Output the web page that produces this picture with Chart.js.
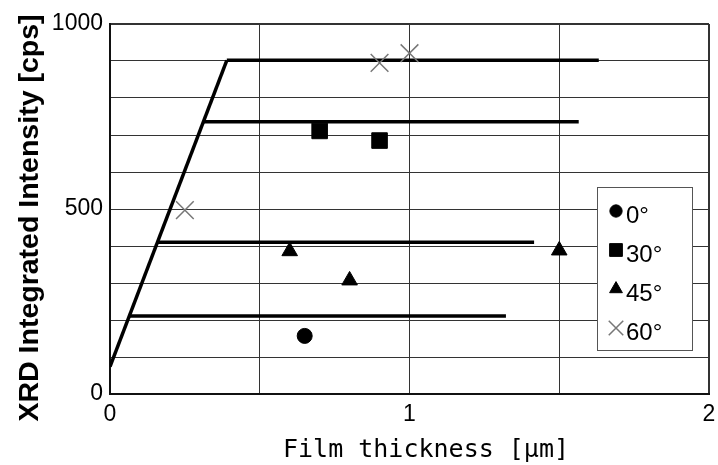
<!DOCTYPE html>
<html>
<head>
<meta charset="utf-8">
<script src="https://cdn.jsdelivr.net/npm/chart.js@4/dist/chart.umd.min.js"></script>
<style>
  html, body { margin: 0; padding: 0; background: #fff; }
  #wrap { width: 718px; height: 465px; }
</style>
</head>
<body>
<div id="wrap"><canvas id="xrdChart" width="718" height="465"></canvas></div>
<script>
// Film thickness [um] vs XRD integrated intensity [cps]
const seriesLabels = ['0°', '30°', '45°', '60°'];
const x0 = [0.65];
const y0 = [157];
const x30 = [0.70, 0.90];
const y30 = [711, 685];
const x45 = [0.60, 0.80, 1.50];
const y45 = [386, 307, 388];
const x60 = [0.25, 0.90, 1.00];
const y60 = [497, 895, 921];

// guide lines (slope + plateaus)
const slopeX = [0, 0.39];
const slopeY = [74, 902];
const levelY = [902, 736, 410, 211];
const levelStartX = [0.39, 0.312, 0.158, 0.065];
const levelEndX = [1.632, 1.565, 1.416, 1.322];

const xTicks = [0, 1, 2];
const yTicks = [0, 500, 1000];
const xTitle = 'Film thickness [μm]';
const yTitle = 'XRD Integrated Intensity [cps]';

function pts(xs, ys) {
  return xs.map((x, i) => ({ x: x, y: ys[i] }));
}

const markerDatasets = [
  { label: seriesLabels[0], data: pts(x0, y0), pointStyle: 'circle', pointRadius: 7.5,
    backgroundColor: '#000', borderColor: '#000', borderWidth: 1 },
  { label: seriesLabels[1], data: pts(x30, y30), pointStyle: 'rect', pointRadius: 11,
    backgroundColor: '#000', borderColor: '#000', borderWidth: 1 },
  { label: seriesLabels[2], data: pts(x45, y45), pointStyle: 'triangle', pointRadius: 9,
    backgroundColor: '#000', borderColor: '#000', borderWidth: 1 },
  { label: seriesLabels[3], data: pts(x60, y60), pointStyle: 'crossRot', pointRadius: 12.5,
    backgroundColor: '#777', borderColor: '#777', borderWidth: 1.5 }
];

const lineDatasets = [
  { label: 'slope', data: pts(slopeX, slopeY), showLine: true, pointRadius: 0,
    borderColor: '#000', borderWidth: 3.5 }
];
levelY.forEach((y, i) => {
  lineDatasets.push({ label: 'level' + i, data: pts([levelStartX[i], levelEndX[i]], [y, y]),
    showLine: true, pointRadius: 0, borderColor: '#000', borderWidth: 3.5, borderCapStyle: 'butt' });
});

// axis titles, placed like the original (slightly off-centre)
const axisTitles = {
  id: 'axisTitles',
  afterDraw(chart) {
    const { ctx, chartArea } = chart;
    ctx.save();
    ctx.fillStyle = '#000';
    ctx.textAlign = 'center';
    ctx.textBaseline = 'alphabetic';
    ctx.font = '25px "DejaVu Sans Mono", monospace';
    ctx.fillText(xTitle, chartArea.left + 316, chartArea.bottom + 63);
    ctx.translate(chartArea.left - 72, chartArea.top + 194);
    ctx.rotate(-Math.PI / 2);
    ctx.font = 'bold 28.5px "Liberation Sans", Arial, sans-serif';
    ctx.fillText(yTitle, 0, 0);
    ctx.restore();
  }
};

// legend box drawn inside the plot, bottom right
const boxLegend = {
  id: 'boxLegend',
  afterDatasetsDraw(chart) {
    const { ctx, chartArea } = chart;
    const left = chartArea.right - 112;
    const top = chartArea.top + 163;
    ctx.save();
    ctx.fillStyle = '#fff';
    ctx.strokeStyle = '#555';
    ctx.lineWidth = 1;
    ctx.fillRect(left, top, 95, 163);
    ctx.strokeRect(left + 0.5, top + 0.5, 95, 163);
    seriesLabels.forEach((label, i) => {
      const ds = chart.data.datasets[i];
      const y = top + 24 + i * 39;
      ctx.fillStyle = ds.backgroundColor;
      ctx.strokeStyle = ds.borderColor;
      ctx.lineWidth = ds.borderWidth;
      Chart.helpers.drawPoint(ctx, {
        pointStyle: ds.pointStyle, radius: ds.pointRadius * 0.82, borderWidth: ds.borderWidth, rotation: 0
      }, left + 19, y);
      ctx.fillStyle = '#000';
      ctx.font = '24px "Liberation Sans", Arial, sans-serif';
      ctx.textBaseline = 'middle';
      ctx.textAlign = 'left';
      ctx.fillText(label, left + 29, y + 5);
    });
    ctx.restore();
  }
};

new Chart(document.getElementById('xrdChart'), {
  type: 'scatter',
  data: { datasets: markerDatasets.concat(lineDatasets) },
  options: {
    responsive: false,
    animation: false,
    layout: { autoPadding: false, padding: { left: 0, top: 24, right: 9, bottom: 0 } },
    plugins: { legend: { display: false }, tooltip: { enabled: false } },
    scales: {
      x: {
        type: 'linear', min: 0, max: 2,
        afterFit: s => { s.height = 71; s.paddingLeft = 0; s.paddingRight = 0; },
        ticks: {
          stepSize: 0.5, padding: 7, color: '#000',
          font: { family: '"Liberation Sans", Arial, sans-serif', size: 23 },
          callback: v => xTicks.includes(v) ? v : ''
        },
        grid: {
          color: '#333', drawTicks: false,
          lineWidth: c => (c.tick && c.tick.value === 2) ? 2 : 1
        },
        border: { color: '#111', width: 2 }
      },
      y: {
        type: 'linear', min: 0, max: 1000,
        afterFit: s => { s.width = 110; s.paddingTop = 0; s.paddingBottom = 0; },
        ticks: {
          stepSize: 100, padding: 7, color: '#000',
          font: { family: '"Liberation Sans", Arial, sans-serif', size: 23 },
          callback: v => yTicks.includes(v) ? v : ''
        },
        grid: {
          color: '#333', drawTicks: false,
          lineWidth: c => (c.tick && c.tick.value === 1000) ? 2 : 1
        },
        border: { color: '#111', width: 2 }
      }
    }
  },
  plugins: [boxLegend, axisTitles]
});
</script>
</body>
</html>
